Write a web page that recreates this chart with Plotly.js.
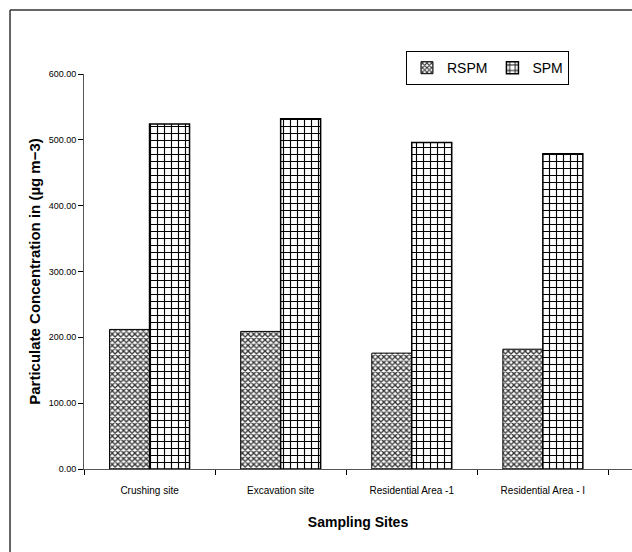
<!DOCTYPE html>
<html>
<head>
<meta charset="utf-8">
<script src="https://cdn.plot.ly/plotly-3.0.1.min.js"></script>
<style>html,body{margin:0;padding:0;background:#fff;}#chart{width:632px;height:552px;}</style>
</head>
<body>
<div id="chart"></div>
<script>
const sites = ["Crushing site", "Excavation site", "Residential Area -1", "Residential Area - I"];
const rspm = [212, 209, 176, 182];
const spm = [524, 532, 496, 479];
const yTicks = [0, 100, 200, 300, 400, 500, 600];

const sans = '"Liberation Sans", Arial, sans-serif';

const traces = [
  {
    type: 'bar', name: 'RSPM', x: sites, y: rspm,
    marker: {
      color: '#ffffff',
      line: {color: '#000000', width: 1},
      pattern: {shape: 'x', size: 4, solidity: 0.55, fgcolor: '#333333', bgcolor: '#ffffff'}
    }
  },
  {
    type: 'bar', name: 'SPM', x: sites, y: spm,
    marker: {
      color: '#ffffff',
      line: {color: '#000000', width: 1.5},
      pattern: {shape: '+', size: 7, solidity: 0.3, fgcolor: '#000000', bgcolor: '#ffffff'}
    }
  }
];

const layout = {
  width: 632, height: 552,
  margin: {l: 84, r: 0, t: 74, b: 83},
  paper_bgcolor: '#ffffff', plot_bgcolor: '#ffffff',
  barmode: 'group', bargap: 0.39, bargroupgap: 0,
  showlegend: true,
  legend: {
    x: 0.885, y: 1.058, xanchor: 'right', yanchor: 'top',
    orientation: 'h', bordercolor: '#000000', borderwidth: 1, bgcolor: '#ffffff',
    font: {family: sans, size: 14, color: '#000'},
    itemwidth: 30, tracegroupgap: 0
  },
  xaxis: {
    range: [-0.5, 3.68], type: 'category',
    showline: true, linecolor: '#555555', linewidth: 1,
    ticks: 'outside', tickson: 'boundaries', ticklen: 5, tickcolor: '#000',
    showgrid: false, zeroline: false,
    ticklabelstandoff: 12,
    tickfont: {family: sans, size: 10, color: '#000'},
    title: {text: '<b>Sampling Sites</b>', font: {family: sans, size: 14, color: '#000'}, standoff: 22}
  },
  yaxis: {
    range: [0, 600], tickvals: yTicks, tickformat: '.2f',
    showline: true, linecolor: '#555555', linewidth: 1,
    ticks: 'outside', ticklen: 5, tickcolor: '#000',
    showgrid: false, zeroline: false,
    tickfont: {family: sans, size: 9, color: '#000'},
    title: {text: '<b>Particulate Concentration in (µg m−3)</b>', font: {family: sans, size: 15, color: '#000'}, standoff: 4}
  },
  shapes: [
    {type: 'line', xref: 'paper', yref: 'paper', x0: -0.135, x1: -0.135, y0: 1.162, y1: -0.22, line: {color: '#333', width: 1.5}},
    {type: 'line', xref: 'paper', yref: 'paper', x0: -0.135, x1: 1.01, y0: 1.162, y1: 1.162, line: {color: '#333', width: 1.5}}
  ]
};

Plotly.newPlot('chart', traces, layout, {displayModeBar: false, staticPlot: true});
</script>
</body>
</html>
